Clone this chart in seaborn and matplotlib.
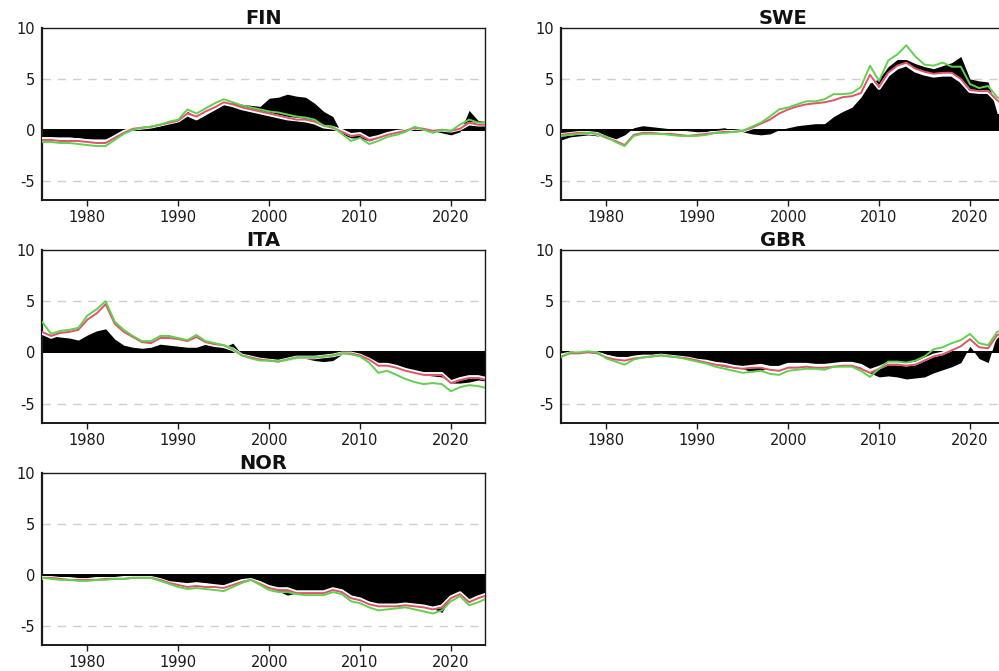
import matplotlib
matplotlib.use("Agg")
import matplotlib.pyplot as plt
import numpy as np
import pandas as pd
import seaborn as sns

# Annual readings, 1975-2024
years = list(range(1975, 2025))

fin_bar = [-0.7, -0.7, -0.7, -0.7, -0.8, -0.9, -0.9, -0.9, -0.5, -0.1,
           0.3, 0.3, 0.3, 0.4, 0.7, 0.9, 1.8, 1.3, 1.6, 2.0,
           2.5, 2.7, 2.5, 2.4, 2.3, 3.1, 3.2, 3.5, 3.3, 3.2,
           2.6, 1.8, 1.3, -0.4, -0.8, -0.8, -1.1, -0.8, -0.3, 0.0,
           0.1, 0.2, 0.1, -0.1, -0.3, -0.5, -0.2, 1.9, 0.9, 0.8]
fin_white = [-0.9, -0.9, -1.0, -1.0, -1.0, -1.1, -1.2, -1.2, -0.7, -0.2,
             0.1, 0.2, 0.3, 0.5, 0.7, 0.9, 1.5, 1.1, 1.6, 2.1,
             2.6, 2.4, 2.1, 1.9, 1.7, 1.5, 1.3, 1.1, 1.0, 0.9,
             0.7, 0.3, 0.2, -0.1, -0.5, -0.4, -0.9, -0.7, -0.4, -0.2,
             -0.1, 0.2, 0.1, -0.1, 0.0, -0.1, 0.1, 0.6, 0.5, 0.5]
fin_red = [-1.0, -1.0, -1.1, -1.1, -1.1, -1.2, -1.3, -1.3, -0.8, -0.3,
           0.1, 0.2, 0.3, 0.5, 0.7, 0.9, 1.6, 1.3, 1.8, 2.2,
           2.7, 2.5, 2.2, 2.0, 1.8, 1.6, 1.4, 1.2, 1.0, 1.0,
           0.8, 0.4, 0.2, -0.2, -0.6, -0.5, -1.0, -0.8, -0.5, -0.3,
           -0.1, 0.2, 0.1, -0.1, 0.0, -0.1, 0.1, 0.7, 0.5, 0.5]
fin_green = [-1.2, -1.2, -1.3, -1.3, -1.4, -1.5, -1.6, -1.6, -1.0, -0.4,
             0.0, 0.2, 0.3, 0.5, 0.8, 1.0, 2.0, 1.6, 2.1, 2.6,
             3.0, 2.7, 2.4, 2.2, 2.0, 1.8, 1.7, 1.5, 1.3, 1.2,
             1.0, 0.4, 0.3, -0.4, -1.1, -0.8, -1.4, -1.1, -0.7, -0.5,
             -0.2, 0.3, 0.0, -0.3, 0.0, -0.1, 0.5, 1.0, 0.7, 0.7]

swe_bar = [-1.0, -0.7, -0.6, -0.5, -0.6, -0.8, -0.9, -0.5, 0.2, 0.4,
           0.3, 0.2, 0.1, 0.0, -0.1, -0.2, -0.2, 0.1, 0.2, -0.1,
           -0.2, -0.4, -0.5, -0.4, 0.0, 0.2, 0.4, 0.5, 0.6, 0.6,
           1.3, 1.8, 2.2, 3.2, 4.6, 5.0, 6.2, 6.9, 6.9, 6.5,
           6.2, 6.0, 6.3, 6.6, 7.2, 5.0, 4.8, 4.7, 1.6, 1.5]
swe_white = [-0.5, -0.4, -0.3, -0.3, -0.4, -0.8, -1.1, -1.4, -0.5, -0.3,
             -0.3, -0.4, -0.4, -0.5, -0.6, -0.5, -0.4, -0.3, -0.2, -0.2,
             -0.1, 0.2, 0.5, 0.9, 1.5, 1.9, 2.2, 2.4, 2.5, 2.6,
             2.8, 3.1, 3.2, 3.5, 5.2, 4.1, 5.4, 6.1, 6.4, 5.8,
             5.5, 5.3, 5.4, 5.4, 4.8, 3.8, 3.7, 3.7, 2.8, 2.3]
swe_red = [-0.5, -0.4, -0.3, -0.3, -0.4, -0.8, -1.1, -1.5, -0.5, -0.3,
           -0.3, -0.4, -0.4, -0.5, -0.6, -0.5, -0.4, -0.3, -0.2, -0.2,
           -0.1, 0.2, 0.6, 1.0, 1.6, 2.0, 2.3, 2.5, 2.6, 2.7,
           2.9, 3.2, 3.3, 3.6, 5.4, 4.2, 5.6, 6.3, 6.6, 6.0,
           5.7, 5.5, 5.6, 5.6, 5.0, 3.9, 3.8, 3.8, 2.9, 2.4]
swe_green = [-0.6, -0.5, -0.4, -0.3, -0.4, -0.7, -1.2, -1.6, -0.6, -0.4,
             -0.4, -0.4, -0.5, -0.6, -0.6, -0.6, -0.5, -0.3, -0.3, -0.2,
             -0.1, 0.3, 0.7, 1.3, 2.0, 2.2, 2.5, 2.8, 2.8, 3.0,
             3.5, 3.5, 3.6, 4.2, 6.3, 4.8, 6.8, 7.4, 8.3, 7.2,
             6.4, 6.3, 6.6, 6.2, 6.2, 4.5, 4.1, 4.3, 3.2, 2.8]

ita_bar = [1.8, 1.6, 1.5, 1.4, 1.2, 1.7, 2.1, 2.3, 1.3, 0.7,
           0.5, 0.4, 0.5, 0.8, 0.7, 0.6, 0.5, 0.5, 0.8, 0.7,
           0.5, 0.9, -0.2, -0.3, -0.6, -0.8, -0.9, -0.8, -0.6, -0.6,
           -0.8, -0.9, -0.8, -0.2, -0.1, -0.3, -0.8, -1.2, -1.3, -1.5,
           -1.7, -2.0, -2.2, -2.3, -2.4, -3.0, -3.0, -2.9, -2.7, -2.8]
ita_white = [1.9, 1.5, 1.8, 1.9, 2.1, 3.1, 3.7, 4.5, 2.7, 1.9,
             1.4, 0.9, 0.8, 1.3, 1.3, 1.2, 1.0, 1.4, 0.9, 0.7,
             0.6, 0.3, -0.3, -0.5, -0.7, -0.8, -0.9, -0.7, -0.5, -0.5,
             -0.5, -0.4, -0.3, -0.1, -0.1, -0.3, -0.7, -1.2, -1.2, -1.4,
             -1.7, -1.9, -2.1, -2.1, -2.1, -2.9, -2.6, -2.4, -2.4, -2.6]
ita_red = [2.0, 1.6, 1.9, 2.0, 2.2, 3.2, 3.8, 4.7, 2.8, 2.0,
           1.5, 1.0, 0.9, 1.4, 1.4, 1.3, 1.1, 1.5, 1.0, 0.8,
           0.7, 0.3, -0.3, -0.5, -0.7, -0.8, -0.9, -0.7, -0.5, -0.5,
           -0.5, -0.4, -0.3, -0.1, -0.1, -0.3, -0.7, -1.3, -1.3, -1.5,
           -1.8, -2.0, -2.2, -2.2, -2.2, -3.0, -2.7, -2.5, -2.5, -2.7]
ita_green = [3.0, 1.8, 2.1, 2.2, 2.4, 3.6, 4.2, 5.0, 3.0, 2.2,
             1.6, 1.1, 1.1, 1.6, 1.6, 1.4, 1.2, 1.7, 1.1, 0.9,
             0.7, 0.3, -0.3, -0.6, -0.8, -0.8, -0.9, -0.7, -0.5, -0.5,
             -0.5, -0.4, -0.3, -0.1, -0.2, -0.4, -1.0, -2.0, -1.8, -2.2,
             -2.6, -2.9, -3.1, -3.0, -3.1, -3.8, -3.4, -3.2, -3.3, -3.5]

gbr_bar = [-0.3, -0.1, 0.1, 0.1, 0.1, -0.2, -0.4, -0.4, -0.4, -0.4,
           -0.4, -0.4, -0.4, -0.5, -0.6, -0.8, -1.0, -1.2, -1.4, -1.5,
           -1.6, -1.9, -1.8, -1.4, -1.4, -1.3, -1.3, -1.3, -1.2, -1.3,
           -1.3, -1.2, -1.3, -1.6, -2.0, -2.4, -2.3, -2.4, -2.6, -2.5,
           -2.4, -2.0, -1.7, -1.4, -1.0, 0.6, -0.6, -1.0, 1.8, 2.0]
gbr_white = [-0.3, -0.1, 0.0, 0.0, -0.1, -0.4, -0.6, -0.7, -0.5, -0.4,
             -0.4, -0.3, -0.4, -0.5, -0.6, -0.8, -0.9, -1.1, -1.2, -1.4,
             -1.5, -1.4, -1.3, -1.5, -1.5, -1.2, -1.2, -1.2, -1.3, -1.3,
             -1.2, -1.1, -1.1, -1.3, -1.8, -1.5, -1.1, -1.1, -1.2, -1.1,
             -0.7, -0.3, -0.1, 0.3, 0.7, 1.2, 0.6, 0.5, 1.6, 1.8]
gbr_red = [-0.4, -0.1, -0.1, 0.0, -0.1, -0.5, -0.7, -0.8, -0.6, -0.5,
           -0.4, -0.3, -0.4, -0.5, -0.6, -0.8, -1.0, -1.2, -1.3, -1.5,
           -1.6, -1.5, -1.5, -1.7, -1.8, -1.5, -1.5, -1.4, -1.5, -1.5,
           -1.4, -1.3, -1.3, -1.6, -2.0, -1.6, -1.2, -1.2, -1.3, -1.2,
           -0.8, -0.4, -0.2, 0.2, 0.6, 1.3, 0.5, 0.4, 1.7, 1.9]
gbr_green = [-0.5, 0.0, 0.0, 0.1, 0.0, -0.6, -0.9, -1.2, -0.7, -0.5,
             -0.4, -0.3, -0.4, -0.5, -0.7, -0.9, -1.1, -1.4, -1.6, -1.8,
             -2.0, -1.9, -1.8, -2.1, -2.2, -1.8, -1.7, -1.6, -1.6, -1.7,
             -1.4, -1.4, -1.4, -1.8, -2.4, -1.6, -0.9, -0.9, -1.0, -0.8,
             -0.4, 0.3, 0.5, 0.9, 1.2, 1.8, 0.9, 0.7, 2.0, 2.2]

nor_bar = [-0.3, -0.3, -0.4, -0.4, -0.4, -0.5, -0.4, -0.4, -0.3, -0.3,
           -0.2, -0.2, -0.2, -0.5, -0.8, -0.9, -1.0, -0.8, -0.8, -1.0,
           -1.1, -0.9, -0.6, -0.4, -0.6, -1.3, -1.6, -2.0, -1.8, -1.8,
           -1.8, -1.7, -1.4, -1.7, -2.2, -2.5, -2.8, -3.0, -3.0, -3.0,
           -2.9, -3.0, -3.1, -3.3, -3.7, -2.2, -1.9, -2.6, -2.3, -1.9]
nor_white = [-0.3, -0.3, -0.4, -0.4, -0.5, -0.5, -0.4, -0.4, -0.4, -0.3,
             -0.3, -0.3, -0.3, -0.5, -0.8, -0.9, -1.0, -0.9, -1.0, -1.1,
             -1.2, -0.9, -0.6, -0.5, -0.8, -1.2, -1.4, -1.4, -1.7, -1.7,
             -1.7, -1.7, -1.4, -1.6, -2.2, -2.4, -2.8, -3.0, -3.0, -3.0,
             -2.9, -3.0, -3.1, -3.3, -3.1, -2.2, -1.8, -2.6, -2.2, -1.9]
nor_red = [-0.3, -0.3, -0.4, -0.5, -0.5, -0.5, -0.5, -0.4, -0.4, -0.4,
           -0.3, -0.3, -0.3, -0.5, -0.8, -1.0, -1.2, -1.1, -1.2, -1.2,
           -1.3, -1.0, -0.7, -0.5, -0.9, -1.3, -1.5, -1.5, -1.8, -1.8,
           -1.8, -1.8, -1.5, -1.7, -2.3, -2.5, -2.9, -3.1, -3.1, -3.1,
           -3.0, -3.1, -3.2, -3.4, -3.2, -2.3, -1.9, -2.7, -2.3, -2.0]
nor_green = [-0.3, -0.4, -0.5, -0.5, -0.6, -0.6, -0.5, -0.5, -0.4, -0.4,
             -0.3, -0.3, -0.3, -0.6, -0.9, -1.2, -1.4, -1.3, -1.4, -1.5,
             -1.6, -1.2, -0.8, -0.5, -1.0, -1.5, -1.7, -1.7, -1.9, -2.0,
             -2.0, -2.0, -1.7, -1.9, -2.6, -2.8, -3.2, -3.5, -3.4, -3.3,
             -3.2, -3.4, -3.6, -3.8, -3.5, -2.6, -2.1, -3.0, -2.7, -2.3]

countries = ["FIN", "SWE", "ITA", "GBR", "NOR"]
x_ticks = [1980, 1990, 2000, 2010, 2020]
y_ticks = [-5, 0, 5, 10]

series = {
    "FIN": (fin_bar, fin_white, fin_red, fin_green),
    "SWE": (swe_bar, swe_white, swe_red, swe_green),
    "ITA": (ita_bar, ita_white, ita_red, ita_green),
    "GBR": (gbr_bar, gbr_white, gbr_red, gbr_green),
    "NOR": (nor_bar, nor_white, nor_red, nor_green),
}

sns.set_theme(style="white")
plt.rcParams["font.family"] = ["DejaVu Sans"]

RED = "#DF536B"
GREEN = "#61D04F"

fig = plt.figure(figsize=(9.99, 6.71), dpi=100)
W, H = 999.0, 671.0

# panel rectangles in pixels: left, top, width, height
cols = [42, 561]
rows = [(28, 172), (250, 173), (473, 172)]

for i, name in enumerate(countries):
    r, c = divmod(i, 2)
    left = cols[c]
    top, hgt = rows[r]
    ax = fig.add_axes([left / W, 1 - (top + hgt) / H, 443 / W, hgt / H])
    bar, white, red, green = series[name]

    for yv in (-5, 5):
        ax.axhline(yv, color="#cfcfcf", lw=1.0, ls=(0, (6, 5)), zorder=0)

    ax.fill_between(years, 0, bar, color="black", lw=0, zorder=1)
    ax.axhline(0, color="black", lw=1.4, zorder=2)

    df = pd.DataFrame({"year": years, "white": white, "red": red, "green": green})
    sns.lineplot(data=df, x="year", y="white", color="white", lw=2.6, ax=ax, zorder=3)
    sns.lineplot(data=df, x="year", y="red", color=RED, lw=1.4, ax=ax, zorder=4)
    sns.lineplot(data=df, x="year", y="green", color=GREEN, lw=1.4, ax=ax, zorder=5)

    ax.set_xlim(1975, 2023.75)
    ax.set_ylim(-6.9, 10)
    ax.set_xticks(x_ticks)
    ax.set_xticklabels([str(t) for t in x_ticks])
    ax.set_yticks(y_ticks)
    ax.set_yticklabels([str(t) for t in y_ticks])
    ax.set_xlabel("")
    ax.set_ylabel("")
    ax.tick_params(axis="x", length=4, width=1, direction="out", pad=3,
                   labelsize=10.5, colors="#1a1a1a", bottom=True)
    ax.tick_params(axis="y", length=0, pad=5, labelsize=10.5, colors="#1a1a1a")
    for side, sp in ax.spines.items():
        sp.set_visible(True)
        sp.set_color("#1a1a1a")
        sp.set_linewidth(1.0)
    ax.spines["left"].set_linewidth(1.6)
    ax.spines["bottom"].set_linewidth(1.4)
    ax.set_title(name, fontsize=14, fontweight="bold", pad=3, color="#111111")

fig.savefig("out.png", dpi=100)
